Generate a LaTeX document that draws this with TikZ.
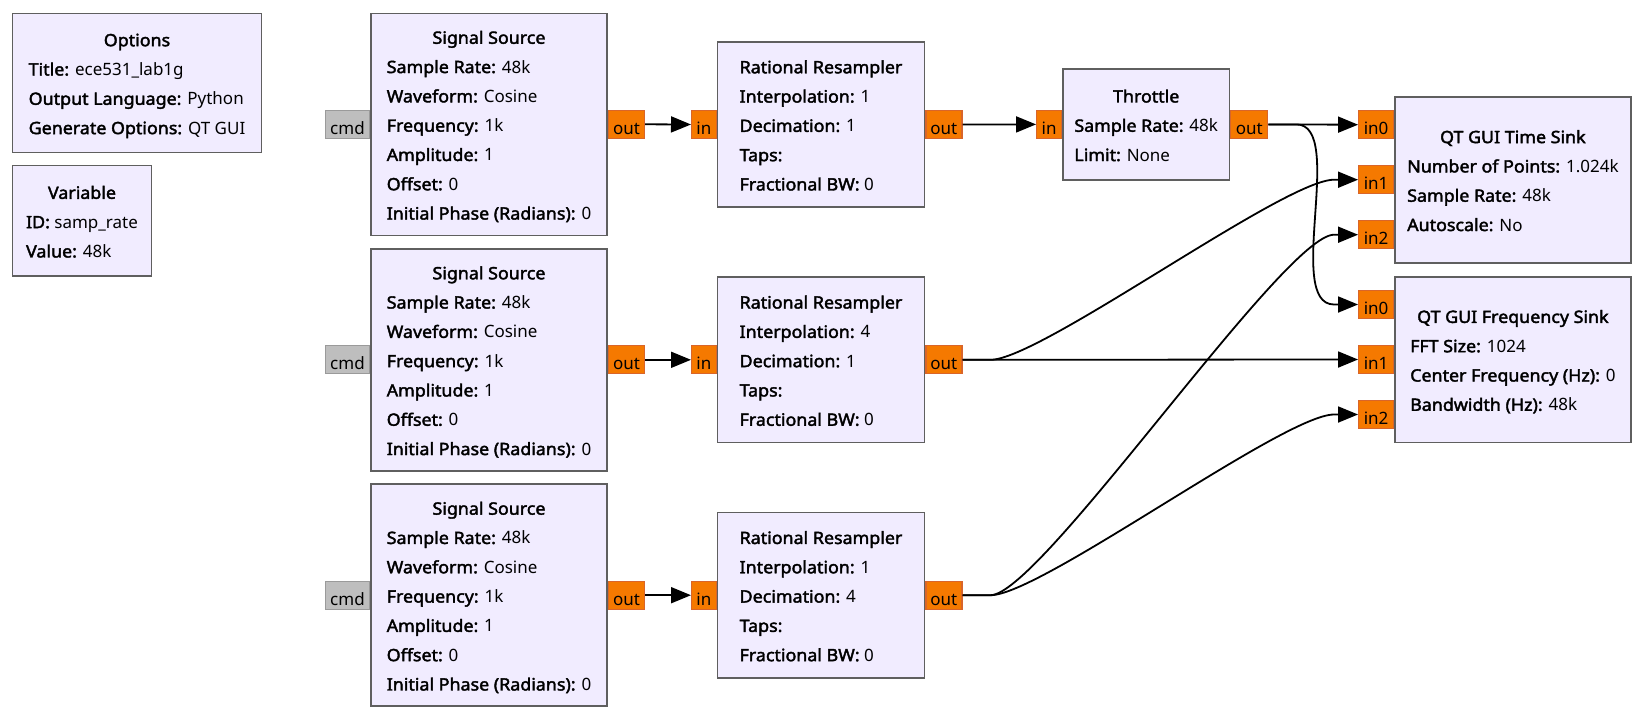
\documentclass[tikz,border=0pt]{standalone}
\usepackage{fontspec}
\setmainfont{Noto Sans}[BoldFont={Noto Sans},BoldFeatures={FakeBold=2.2,FakeStretch=1.05}]
\usetikzlibrary{arrows.meta,calc}
\definecolor{blockfill}{HTML}{F1ECFF}
\definecolor{blockdraw}{HTML}{5F5F5F}
\definecolor{portfill}{HTML}{F57900}
\definecolor{portdraw}{HTML}{D9652A}
\definecolor{cmdfill}{HTML}{BEBEBE}
\definecolor{cmddraw}{HTML}{9A9A9A}
\newcommand{\kv}[2]{\textbf{#1:} #2}
\newcommand{\blk}[2]{\begin{tabular}{@{}l@{}}\multicolumn{1}{@{}c@{}}{\rule{0pt}{23.5pt}\textbf{#1}}\\ #2\end{tabular}}
\tikzset{
  txt/.style={font=\fontsize{17pt}{29.3pt}\selectfont},
  block/.style={txt, draw=blockdraw, fill=blockfill, line width=1.6pt, inner sep=0pt, align=center},
  port/.style={txt, draw=portdraw, fill=portfill, line width=1.2pt, inner xsep=0pt, inner ysep=0pt,
               minimum height=28pt, text height=20pt, text depth=0pt},
  cmdport/.style={port, draw=cmddraw, fill=cmdfill},
  wire/.style={draw=black, line width=1.8pt, -{Triangle[length=20pt,width=16pt]}}
}
\begin{document}
\begin{tikzpicture}[x=1pt,y=-1pt]
\fill[white] (0,0) rectangle (1647,718);
\useasboundingbox (0,0) rectangle (1647,718);

% left blocks
\node[block, minimum width=249pt, minimum height=139pt] (opt) at (137,82.8)
  {\blk{Options}{\kv{Title}{ece531\_lab1g}\\ \kv{Output Language}{Python}\\ \kv{Generate Options}{QT GUI}}};
\node[block, minimum width=138.7pt, minimum height=110.3pt] (var) at (82,220.8)
  {\blk{Variable}{\kv{ID}{samp\_rate}\\ \kv{Value}{48k}}};

% signal sources
\node[block, minimum width=236.3pt, minimum height=222pt] (ss1) at (489,124.3)
  {\blk{Signal Source}{\kv{Sample Rate}{48k}\\ \kv{Waveform}{Cosine}\\ \kv{Frequency}{1k}\\ \kv{Amplitude}{1}\\ \kv{Offset}{0}\\ \kv{Initial Phase (Radians)}{0}}};
\node[block, minimum width=236.3pt, minimum height=222pt] (ss2) at (489,359.8)
  {\blk{Signal Source}{\kv{Sample Rate}{48k}\\ \kv{Waveform}{Cosine}\\ \kv{Frequency}{1k}\\ \kv{Amplitude}{1}\\ \kv{Offset}{0}\\ \kv{Initial Phase (Radians)}{0}}};
\node[block, minimum width=236.3pt, minimum height=222pt] (ss3) at (489,595.2)
  {\blk{Signal Source}{\kv{Sample Rate}{48k}\\ \kv{Waveform}{Cosine}\\ \kv{Frequency}{1k}\\ \kv{Amplitude}{1}\\ \kv{Offset}{0}\\ \kv{Initial Phase (Radians)}{0}}};

% resamplers
\node[block, minimum width=207pt, minimum height=165.5pt] (rr1) at (821,124.5)
  {\blk{Rational Resampler}{\kv{Interpolation}{1}\\ \kv{Decimation}{1}\\ \kv{Taps}{}\\ \kv{Fractional BW}{0}}};
\node[block, minimum width=207pt, minimum height=165.5pt] (rr2) at (821,359.8)
  {\blk{Rational Resampler}{\kv{Interpolation}{4}\\ \kv{Decimation}{1}\\ \kv{Taps}{}\\ \kv{Fractional BW}{0}}};
\node[block, minimum width=207pt, minimum height=165.5pt] (rr3) at (821,595.2)
  {\blk{Rational Resampler}{\kv{Interpolation}{1}\\ \kv{Decimation}{4}\\ \kv{Taps}{}\\ \kv{Fractional BW}{0}}};

% throttle
\node[block, minimum width=166.3pt, minimum height=110.7pt] (thr) at (1146.2,124.4)
  {\blk{Throttle}{\kv{Sample Rate}{48k}\\ \kv{Limit}{None}}};

% sinks
\node[block, minimum width=235.7pt, minimum height=166pt] (ts) at (1512.9,179.7)
  {\blk{QT GUI Time Sink}{\kv{Number of Points}{1.024k}\\ \kv{Sample Rate}{48k}\\ \kv{Autoscale}{No}}};
\node[block, minimum width=235.7pt, minimum height=165.6pt] (fs) at (1512.9,359.5)
  {\blk{QT GUI Frequency Sink}{\kv{FFT Size}{1024}\\ \kv{Center Frequency (Hz)}{0}\\ \kv{Bandwidth (Hz)}{48k}}};

% ports
\foreach \b in {ss1,ss2,ss3}{
  \node[cmdport, minimum width=44pt, anchor=east] (\b c) at (\b.west) {cmd};
  \node[port, minimum width=36pt, anchor=west] (\b o) at (\b.east) {out};
}
\foreach \b in {rr1,rr2,rr3}{
  \node[port, minimum width=24.5pt, anchor=east] (\b i) at (\b.west) {in};
  \node[port, minimum width=36pt, anchor=west] (\b o) at (\b.east) {out};
}
\node[port, minimum width=25pt, anchor=east] (thri) at (thr.west) {in};
\node[port, minimum width=37pt, anchor=west] (thro) at (thr.east) {out};
\foreach \b in {ts,fs}{
  \node[port, minimum width=35pt, anchor=east] (\b i0) at ($(\b.west)+(0,-55)$) {in0};
  \node[port, minimum width=35pt, anchor=east] (\b i1) at (\b.west) {in1};
  \node[port, minimum width=35pt, anchor=east] (\b i2) at ($(\b.west)+(0,55)$) {in2};
}

% connections
\draw[wire] (ss1o.east) -- (rr1i.west);
\draw[wire] (ss2o.east) -- (rr2i.west);
\draw[wire] (ss3o.east) -- (rr3i.west);
\draw[wire] (rr1o.east) -- (thri.west);
\draw[wire] (thro.east) -- (tsi0.west);
\draw[wire] (thro.east) -- ++(28,0) .. controls +(50,0) and +(-50,0) .. ($(fsi0.west)+(-24,0)$) -- (fsi0.west);
\draw[wire] (rr2o.east) -- ++(28,0) .. controls +(50,0) and +(-50,0) .. ($(tsi1.west)+(-24,0)$) -- (tsi1.west);
\draw[wire] (rr2o.east) -- (fsi1.west);
\draw[wire] (rr3o.east) -- ++(28,0) .. controls +(50,0) and +(-50,0) .. ($(tsi2.west)+(-24,0)$) -- (tsi2.west);
\draw[wire] (rr3o.east) -- ++(28,0) .. controls +(50,0) and +(-50,0) .. ($(fsi2.west)+(-24,0)$) -- (fsi2.west);
\end{tikzpicture}
\end{document}
